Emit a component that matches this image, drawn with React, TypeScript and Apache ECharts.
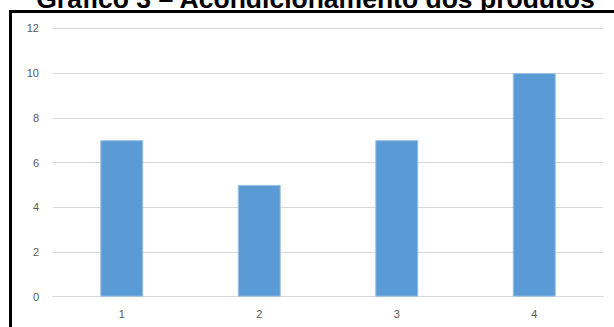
import React, { useEffect, useRef } from "react";
import * as echarts from "echarts";

const titleText = "Gráfico 3 – Acondicionamento dos produtos";
const categories = ["1", "2", "3", "4"];
const values = [7, 5, 7, 10];
const yMin = 0;
const yMax = 12;
const yStep = 2;

export default function App() {
  const ref = useRef<HTMLDivElement>(null);

  useEffect(() => {
    if (!ref.current) return;
    const chart = echarts.init(ref.current, undefined, { renderer: "svg" });
    chart.setOption({
      animation: false,
      backgroundColor: "#ffffff",
      grid: { left: 53, right: 11, top: 28.3, bottom: 30.3, containLabel: false },
      graphic: [
        {
          type: "rect",
          shape: { x: 10.5, y: 11.5, width: 1000, height: 1000 },
          style: { fill: "none", stroke: "#000000", lineWidth: 3 },
          silent: true,
        },
        {
          type: "text",
          x: 315.5,
          y: 12.5,
          style: {
            text: titleText,
            font: "bold 26.5px 'Liberation Sans', Arial, sans-serif",
            fill: "#000000",
            textAlign: "center",
            textVerticalAlign: "bottom",
          },
          silent: true,
        },
      ],
      xAxis: {
        type: "category",
        data: categories,
        axisLine: { show: true, lineStyle: { color: "#D9D9D9", width: 1 } },
        axisTick: { show: false },
        axisLabel: {
          color: "#595959",
          fontSize: 11,
          fontFamily: "'Liberation Sans', Arial, sans-serif",
          margin: 12,
        },
      },
      yAxis: {
        type: "value",
        min: yMin,
        max: yMax,
        interval: yStep,
        axisLine: { show: false },
        axisTick: { show: false },
        splitLine: { lineStyle: { color: "#D9D9D9", width: 1 } },
        axisLabel: {
          color: "#595959",
          fontSize: 11,
          fontFamily: "'Liberation Sans', Arial, sans-serif",
          margin: 14,
        },
      },
      series: [
        {
          type: "bar",
          data: values,
          barWidth: 43,
          itemStyle: {
            color: "#5B9BD5",
            borderColor: "#9DC3E6",
            borderWidth: 1,
          },
        },
      ],
    });
    return () => chart.dispose();
  }, []);

  return (
    <div
      ref={ref}
      style={{ position: "fixed", left: 0, top: 0, width: 614, height: 327 }}
    />
  );
}
